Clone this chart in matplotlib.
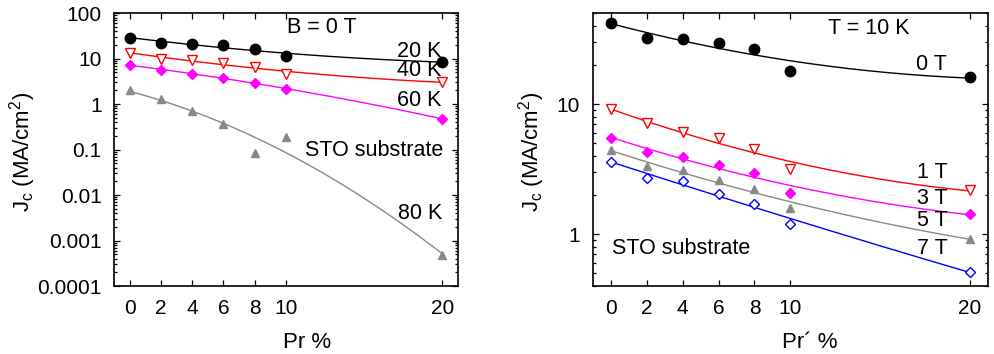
import numpy as np
import matplotlib
matplotlib.use("Agg")
import matplotlib.pyplot as plt
from matplotlib.ticker import FixedLocator, LogLocator, NullFormatter

plt.rcParams['font.family'] = ['Liberation Sans', 'DejaVu Sans']
plt.rcParams['mathtext.default'] = 'regular'

# Pr content (%) shared by both panels
pr = [0, 2, 4, 6, 8, 10, 20]
x_ticks = [0, 2, 4, 6, 8, 10, 20]

# Left panel: Jc (MA/cm^2) at B = 0 T for several temperatures
jc_20K = [28.7, 22.3, 21.1, 19.5, 15.9, 11.2, 8.5]
jc_40K = [13.4, 10.0, 9.3, 8.0, 6.5, 4.6, 3.05]
jc_60K = [7.3, 5.5, 4.7, 3.8, 2.94, 2.1, 0.475]
jc_80K = [2.03, 1.29, 0.70, 0.358, 0.085, 0.185, 0.00048]
left_yticks = [1e-4, 1e-3, 1e-2, 1e-1, 1, 10, 100]
left_ylabels = ['0.0001', '0.001', '0.01', '0.1', '1', '10', '100']

# Right panel: Jc (MA/cm^2) at T = 10 K for several fields
jc_0T = [42.0, 32.2, 31.8, 29.6, 26.5, 18.1, 16.1]
jc_1T = [9.1, 7.1, 6.05, 5.44, 4.53, 3.18, 2.18]
jc_3T = [5.53, 4.32, 3.91, 3.43, 2.96, 2.07, 1.43]
jc_5T = [4.4, 3.37, 3.11, 2.62, 2.23, 1.58, 0.925]
jc_7T = [3.62, 2.72, 2.57, 2.02, 1.70, 1.20, 0.513]
right_yticks = [1, 10]
right_ylabels = ['1', '10']

FS = 15      # tick labels
FS_LAB = 16  # axis labels
FS_TXT = 15.5  # in-plot annotations


def log_fit(x, y):
    # quadratic fit of log10(Jc) vs Pr, drawn as a smooth guide line
    c = np.polyfit(x, np.log10(y), 2)
    xs = np.linspace(min(x), max(x), 200)
    return xs, 10 ** np.polyval(c, xs)


def style_axes(ax):
    ax.set_yscale('log')
    ax.set_xlim(-1, 21)
    ax.xaxis.set_major_locator(FixedLocator(x_ticks))
    ax.set_xticklabels([str(v) for v in x_ticks])
    ax.yaxis.set_minor_locator(LogLocator(base=10, subs=np.arange(2, 10), numticks=20))
    ax.yaxis.set_minor_formatter(NullFormatter())
    ax.tick_params(which='both', direction='in', top=True, right=True, labelsize=FS,
                   width=0.9)
    ax.tick_params(which='major', length=4.5, pad=9)
    ax.tick_params(which='minor', length=2.5)
    for s in ax.spines.values():
        s.set_linewidth(1.2)


def draw(ax, y, color, marker, ms, open_marker=False):
    xs, ys = log_fit(pr, y)
    ax.plot(xs, ys, color=color, lw=1.0, zorder=2)
    if open_marker:
        ax.plot(pr, y, linestyle='none', marker=marker, ms=ms, mfc='white',
                mec=color, mew=1.0, zorder=3)
    else:
        ax.plot(pr, y, linestyle='none', marker=marker, ms=ms, color=color, zorder=3)


def label(ax, x, y, s, ha='right'):
    ax.text(x, y, s, transform=ax.transAxes, ha=ha, va='center', fontsize=FS_TXT)


fig = plt.figure(figsize=(9.94, 3.54), dpi=100)
ax1 = fig.add_axes([0.1147, 0.192, 0.346, 0.771])
ax2 = fig.add_axes([0.5963, 0.192, 0.3977, 0.771])

# ---- left panel: B = 0 T ----
style_axes(ax1)
ax1.set_ylim(1e-4, 100)
ax1.yaxis.set_major_locator(FixedLocator(left_yticks))
ax1.set_yticklabels(left_ylabels)
draw(ax1, jc_20K, 'black', 'o', 7.5)
draw(ax1, jc_40K, '#ff0000', 'v', 7, open_marker=True)
draw(ax1, jc_60K, '#ff00ff', 'D', 5)
draw(ax1, jc_80K, '#888888', '^', 6)

label(ax1, 0.605, 0.949, 'B = 0 T', ha='center')
label(ax1, 0.953, 0.861, '20 K')
label(ax1, 0.953, 0.788, '40 K')
label(ax1, 0.953, 0.681, '60 K')
label(ax1, 0.958, 0.495, 'STO substrate')
label(ax1, 0.953, 0.267, '80 K')

ax1.set_xlabel('Pr %', fontsize=FS_LAB)
ax1.xaxis.set_label_coords(0.56, -0.17)
ax1.set_ylabel('J$_c$ (MA/cm$^2$)', fontsize=FS_LAB)
ax1.yaxis.set_label_coords(-0.222, 0.49)

# ---- right panel: T = 10 K ----
style_axes(ax2)
ax2.set_ylim(0.4, 50)
ax2.yaxis.set_major_locator(FixedLocator(right_yticks))
ax2.set_yticklabels(right_ylabels)
draw(ax2, jc_0T, 'black', 'o', 7.5)
draw(ax2, jc_1T, '#ff0000', 'v', 7, open_marker=True)
draw(ax2, jc_3T, '#ff00ff', 'D', 5)
draw(ax2, jc_5T, '#888888', '^', 6)
draw(ax2, jc_7T, '#0000ff', 'D', 5, open_marker=True)

label(ax2, 0.697, 0.945, 'T = 10 K', ha='center')
label(ax2, 0.897, 0.810, '0 T')
label(ax2, 0.897, 0.415, '1 T')
label(ax2, 0.897, 0.319, '3 T')
label(ax2, 0.897, 0.239, '5 T')
label(ax2, 0.897, 0.139, '7 T')
label(ax2, 0.049, 0.139, 'STO substrate', ha='left')

ax2.set_xlabel('Pr\u00b4 %', fontsize=FS_LAB)
ax2.xaxis.set_label_coords(0.55, -0.17)
ax2.set_ylabel('J$_c$ (MA/cm$^2$)', fontsize=FS_LAB)
ax2.yaxis.set_label_coords(-0.116, 0.49)

fig.savefig('out.png', dpi=100)
